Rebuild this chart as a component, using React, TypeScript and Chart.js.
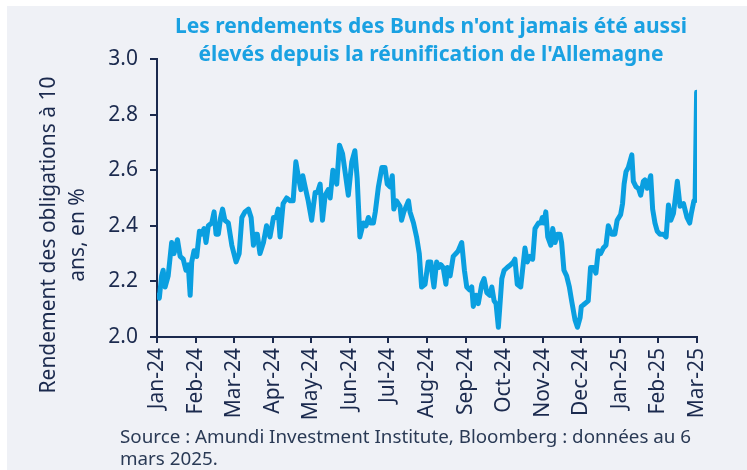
import React, { useEffect, useRef } from "react";
import { Chart, registerables } from "chart.js";

Chart.register(...registerables);

const monthLabels = [
  "Jan-24", "Feb-24", "Mar-24", "Apr-24", "May-24", "Jun-24", "Jul-24", "Aug-24",
  "Sep-24", "Oct-24", "Nov-24", "Dec-24", "Jan-25", "Feb-25", "Mar-25",
];

// position in months since Jan-24 (0 = Jan-24, 14 = Mar-25)
const monthPos = [
  0.01, 0.06, 0.12, 0.16, 0.21, 0.29, 0.38, 0.44, 0.53, 0.60, 0.68, 0.75, 0.81, 0.86, 0.90, 0.96,
  1.03, 1.10, 1.16, 1.22, 1.27, 1.33, 1.42, 1.48, 1.53, 1.59, 1.65, 1.70, 1.76, 1.85, 1.94,
  2.05, 2.13, 2.20, 2.28, 2.37, 2.44, 2.50, 2.56, 2.60, 2.67, 2.76, 2.84, 2.93,
  3.02, 3.09, 3.14, 3.19, 3.27, 3.36, 3.45, 3.53, 3.60, 3.66, 3.73, 3.78, 3.84, 3.92,
  4.01, 4.10, 4.16, 4.23, 4.29, 4.36, 4.44, 4.49, 4.56, 4.66, 4.73, 4.81, 4.87, 4.96,
  5.05, 5.13, 5.19, 5.26, 5.35, 5.42, 5.48, 5.54, 5.61, 5.66, 5.74, 5.83, 5.91, 5.97,
  6.04, 6.10, 6.14, 6.21, 6.30, 6.34, 6.40, 6.52, 6.56, 6.65, 6.73, 6.80, 6.86, 6.95,
  7.03, 7.10, 7.15, 7.18, 7.25, 7.31, 7.36, 7.42, 7.49, 7.53, 7.60, 7.68, 7.75, 7.81, 7.90, 7.97,
  8.03, 8.10, 8.16, 8.20, 8.27, 8.33, 8.42, 8.48, 8.55, 8.63, 8.68, 8.74, 8.79, 8.85, 8.94,
  9.00, 9.08, 9.17, 9.24, 9.28, 9.34, 9.43, 9.54, 9.60, 9.67, 9.74, 9.80, 9.89, 9.95, 9.99,
  10.03, 10.08, 10.13, 10.21, 10.26, 10.32, 10.38, 10.45, 10.49, 10.55, 10.62, 10.69, 10.75, 10.84, 10.90, 10.97,
  11.00, 11.05, 11.18, 11.24, 11.31, 11.38, 11.44, 11.50, 11.57, 11.64, 11.70, 11.79, 11.87, 11.93,
  12.02, 12.07, 12.11, 12.16, 12.22, 12.31, 12.35, 12.42, 12.48, 12.54, 12.61, 12.65, 12.71, 12.80, 12.85, 12.91, 12.97,
  13.04, 13.13, 13.20, 13.26, 13.32, 13.39, 13.43, 13.49, 13.56, 13.65, 13.74, 13.81, 13.86, 13.92, 13.95, 13.99,
];

const bundYield = [
  2.15, 2.14, 2.22, 2.24, 2.18, 2.22, 2.34, 2.30, 2.35, 2.29, 2.28, 2.24, 2.26, 2.15, 2.27, 2.31,
  2.29, 2.38, 2.37, 2.39, 2.34, 2.40, 2.41, 2.45, 2.37, 2.37, 2.43, 2.46, 2.42, 2.41, 2.33,
  2.27, 2.30, 2.43, 2.45, 2.46, 2.43, 2.33, 2.37, 2.37, 2.30, 2.34, 2.40, 2.36,
  2.43, 2.43, 2.46, 2.36, 2.48, 2.50, 2.49, 2.49, 2.63, 2.58, 2.53, 2.58, 2.54, 2.49,
  2.42, 2.52, 2.52, 2.55, 2.42, 2.51, 2.53, 2.50, 2.60, 2.55, 2.69, 2.66, 2.60, 2.51,
  2.63, 2.67, 2.57, 2.36, 2.41, 2.40, 2.43, 2.41, 2.41, 2.45, 2.54, 2.61, 2.61, 2.55,
  2.54, 2.58, 2.46, 2.49, 2.47, 2.42, 2.45, 2.49, 2.45, 2.41, 2.36, 2.30, 2.18, 2.19,
  2.27, 2.27, 2.21, 2.18, 2.27, 2.25, 2.26, 2.25, 2.19, 2.25, 2.22, 2.29, 2.30, 2.31, 2.34, 2.24,
  2.18, 2.17, 2.18, 2.11, 2.15, 2.12, 2.19, 2.21, 2.16, 2.15, 2.18, 2.13, 2.12, 2.035, 2.21,
  2.24, 2.25, 2.26, 2.27, 2.28, 2.19, 2.18, 2.32, 2.27, 2.29, 2.28, 2.39, 2.41, 2.41, 2.43,
  2.41, 2.45, 2.36, 2.33, 2.39, 2.34, 2.37, 2.37, 2.34, 2.24, 2.22, 2.18, 2.13, 2.06, 2.035, 2.07,
  2.11, 2.115, 2.13, 2.25, 2.25, 2.23, 2.31, 2.30, 2.32, 2.33, 2.40, 2.37, 2.37, 2.42,
  2.44, 2.48, 2.55, 2.595, 2.61, 2.655, 2.56, 2.54, 2.535, 2.51, 2.56, 2.565, 2.535, 2.58, 2.46, 2.41, 2.38,
  2.37, 2.37, 2.36, 2.475, 2.42, 2.445, 2.49, 2.56, 2.47, 2.48, 2.43, 2.41, 2.45, 2.49, 2.49, 2.88,
];

const yTicks = [2.0, 2.2, 2.4, 2.6, 2.8, 3.0];

const titleLines = [
  "Les rendements des Bunds n'ont jamais été aussi",
  "élevés depuis la réunification de l'Allemagne",
];
const yTitleLines = ["Rendement des obligations à 10", "ans, en %"];
const sourceLines = [
  "Source : Amundi Investment Institute, Bloomberg : données au 6",
  "mars 2025.",
];

const NAVY = "#1b2a4e";
const BLUE = "#0a9fe0";
const FONT = "'Noto Sans', 'Open Sans', sans-serif";

export default function App() {
  const ref = useRef<HTMLCanvasElement | null>(null);

  useEffect(() => {
    document.body.style.margin = "0";
    const canvas = ref.current;
    if (!canvas) return;

    const decor = {
      id: "decor",
      beforeDraw(chart: any) {
        const ctx = chart.ctx;
        ctx.save();
        ctx.fillStyle = "#ffffff";
        ctx.fillRect(0, 0, chart.width, chart.height);
        ctx.fillStyle = "#eff1f6";
        ctx.fillRect(7, 6, chart.width - 7, chart.height - 6);
        ctx.restore();
      },
      afterDraw(chart: any) {
        const ctx = chart.ctx;
        ctx.save();
        // title
        ctx.fillStyle = "#1aa1e2";
        ctx.font = `bold 21px ${FONT}`;
        ctx.textAlign = "center";
        ctx.textBaseline = "middle";
        ctx.fillText(titleLines[0], 431, 27);
        ctx.fillText(titleLines[1], 431, 55);
        // y title
        ctx.fillStyle = NAVY;
        ctx.font = `21px ${FONT}`;
        ctx.save();
        ctx.translate(49, 235);
        ctx.rotate(-Math.PI / 2);
        ctx.fillText(yTitleLines[0], 0, 0);
        ctx.restore();
        ctx.save();
        ctx.translate(78, 235);
        ctx.rotate(-Math.PI / 2);
        ctx.fillText(yTitleLines[1], 0, 0);
        ctx.restore();
        // source
        ctx.fillStyle = "#2a3a55";
        ctx.font = `18.8px ${FONT}`;
        ctx.textAlign = "left";
        ctx.fillText(sourceLines[0], 120, 438);
        ctx.fillText(sourceLines[1], 120, 460);
        ctx.restore();
      },
    };

    const chart = new Chart(canvas, {
      type: "line",
      data: {
        datasets: [
          {
            data: monthPos.map((m, i) => ({ x: m, y: bundYield[i] })),
            borderColor: BLUE,
            borderWidth: 5,
            pointRadius: 0,
            tension: 0,
            borderJoinStyle: "round",
            borderCapStyle: "round",
            fill: false,
          },
        ],
      },
      options: {
        animation: false,
        responsive: false,
        devicePixelRatio: 1,
        layout: { padding: { left: 97, right: 50, top: 59, bottom: 38 } },
        plugins: { legend: { display: false }, tooltip: { enabled: false }, title: { display: false } },
        scales: {
          x: {
            type: "linear",
            min: 0,
            max: monthLabels.length - 1,
            afterFit: (s: any) => { s.height = 95; },
            afterBuildTicks: (s: any) => { s.ticks = monthLabels.map((_, i) => ({ value: i })); },
            ticks: {
              autoSkip: false,
              minRotation: 90,
              maxRotation: 90,
              padding: 5,
              color: NAVY,
              font: { family: FONT, size: 21 },
              callback: (v: any) => monthLabels[Math.round(Number(v))] ?? "",
            },
            grid: { drawOnChartArea: false, drawTicks: true, tickLength: 6, color: NAVY, lineWidth: 2 },
            border: { display: true, color: NAVY, width: 2 },
          },
          y: {
            min: 2.0,
            max: 3.0,
            afterFit: (s: any) => { s.width = 60; },
            afterBuildTicks: (s: any) => { s.ticks = yTicks.map((v) => ({ value: v })); },
            ticks: {
              padding: 12,
              color: NAVY,
              font: { family: FONT, size: 21 },
              callback: (v: any) => Number(v).toFixed(1),
            },
            grid: { drawOnChartArea: false, drawTicks: true, tickLength: 7, color: NAVY, lineWidth: 2 },
            border: { display: true, color: NAVY, width: 2 },
          },
        },
      },
      plugins: [decor],
    } as any);

    return () => chart.destroy();
  }, []);

  return <canvas ref={ref} width={747} height={470} style={{ display: "block" }} />;
}
